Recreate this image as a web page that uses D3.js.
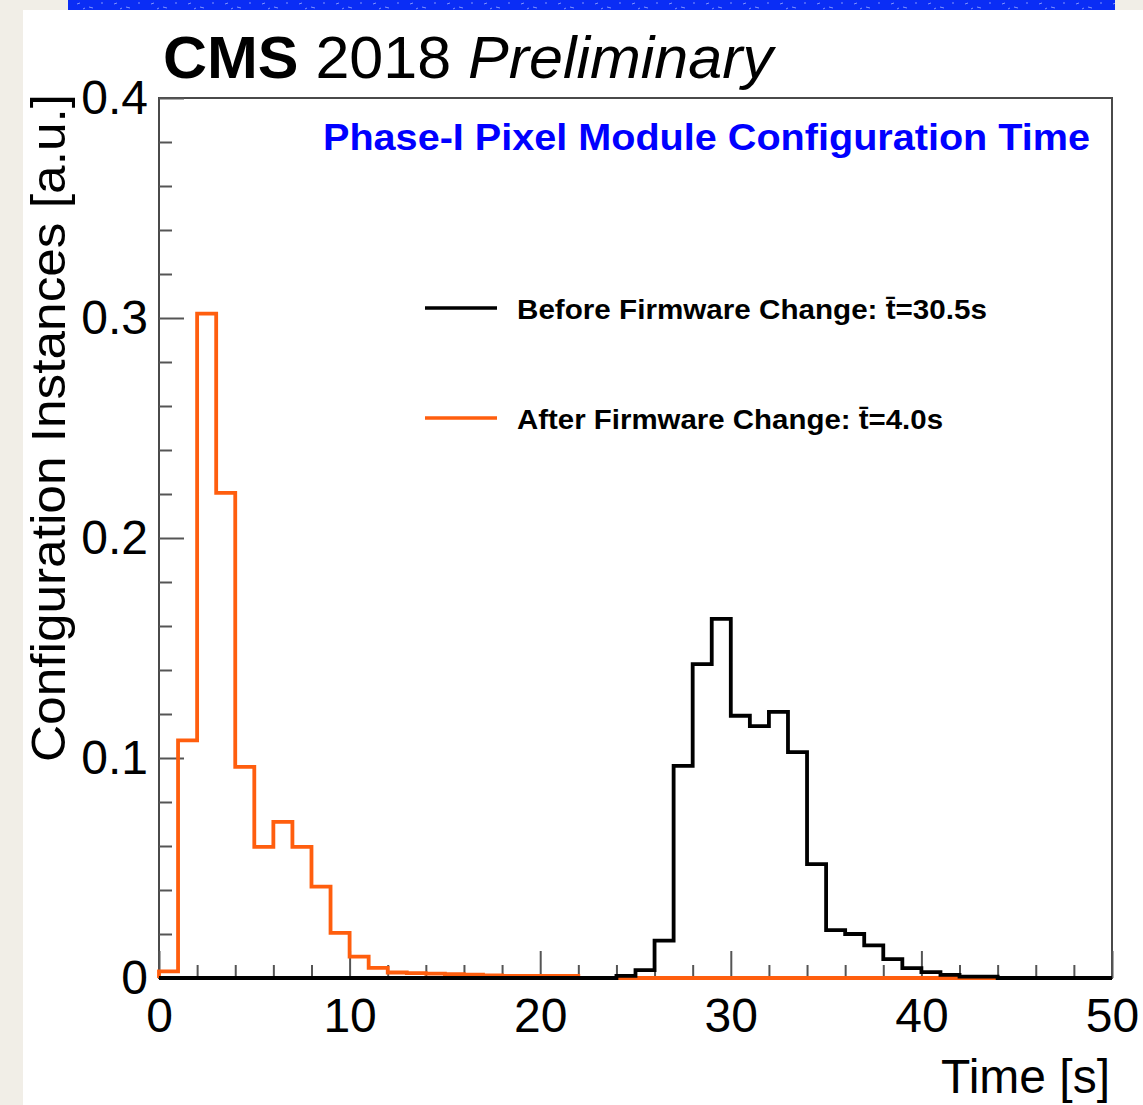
<!DOCTYPE html>
<html>
<head>
<meta charset="utf-8">
<script src="https://cdn.jsdelivr.net/npm/d3@7"></script>
<style>
  body { margin: 0; background: #f1eee7; }
  svg { display: block; }
  text { font-family: "Liberation Sans", Arial, Helvetica, sans-serif; }
</style>
</head>
<body>
<svg id="chart" width="1143" height="1105"></svg>
<script>
// histogram contents, one value per 1 s bin starting at t = 0
const binWidth = 1;
const beforeValues = [
  0, 0, 0, 0, 0, 0, 0, 0, 0, 0,
  0, 0, 0, 0, 0, 0, 0, 0, 0, 0,
  0, 0, 0, 0, 0.001, 0.0036, 0.017, 0.0964, 0.1427, 0.1632,
  0.1192, 0.1145, 0.121, 0.1027, 0.0518, 0.0218, 0.020, 0.0148, 0.0086, 0.0045,
  0.0027, 0.0014, 0.0006, 0.0006, 0, 0, 0, 0, 0, 0
];
const afterValues = [
  0.003, 0.108, 0.302, 0.2205, 0.096, 0.0596, 0.071, 0.0596, 0.0415, 0.0205,
  0.0097, 0.0046, 0.0025, 0.0022, 0.002, 0.0018, 0.0015, 0.0012, 0.001, 0.001,
  0.001, 0.001, 0, 0, 0, 0, 0, 0, 0, 0,
  0, 0, 0, 0, 0, 0, 0, 0, 0, 0,
  0, 0, 0, 0
];
const xMajorTicks = [0, 10, 20, 30, 40, 50];
const yMajorTicks = [0, 0.1, 0.2, 0.3, 0.4];
const legendLabels = ["Before Firmware Change: t\u0304=30.5s", "After Firmware Change: t\u0304=4.0s"];
const seriesColors = ["#000000", "#ff5e0e"];

const svg = d3.select("#chart");

// page background: white sheet, blue scribble strip at top
const defs = svg.append("defs");
const pat = defs.append("pattern")
  .attr("id", "scribble")
  .attr("patternUnits", "userSpaceOnUse")
  .attr("width", 37).attr("height", 10);
pat.append("rect").attr("width", 37).attr("height", 10).attr("fill", "#0a2df5");
pat.append("path")
  .attr("d", "M3,4 l3,-1 M15,7 l4,1 M27,3 l2,0 M9,9 l2,-1")
  .attr("stroke", "#9fb0ff").attr("stroke-width", 0.8);

svg.append("rect").attr("x", 68).attr("y", 0).attr("width", 1047).attr("height", 10)
  .attr("fill", "url(#scribble)");
svg.append("rect").attr("x", 23).attr("y", 10).attr("width", 1120).attr("height", 1095)
  .attr("fill", "#ffffff");

const margin = {left: 159, right: 1112, top: 98, bottom: 978};

const x = d3.scaleLinear().domain([0, 50]).range([margin.left, margin.right]);
const y = d3.scaleLinear().domain([0, 0.4]).range([margin.bottom, margin.top]);

// frame
svg.append("rect")
  .attr("x", margin.left).attr("y", margin.top)
  .attr("width", margin.right - margin.left).attr("height", margin.bottom - margin.top)
  .attr("fill", "none").attr("stroke", "#4a4a4a").attr("stroke-width", 2);

// minor ticks
const xMinor = d3.range(0, 50.001, 2).filter(d => d % 10 !== 0);
const yMinor = d3.range(0, 0.4001, 0.02).filter(d => Math.abs(d * 10 - Math.round(d * 10)) > 1e-6);

svg.append("g")
  .attr("transform", `translate(0,${margin.bottom})`)
  .call(d3.axisBottom(x).tickValues(xMinor).tickSize(-13).tickFormat(""))
  .call(g => g.select(".domain").remove());
svg.append("g")
  .attr("transform", `translate(${margin.left},0)`)
  .call(d3.axisLeft(y).tickValues(yMinor).tickSize(-13).tickFormat(""))
  .call(g => g.select(".domain").remove());

// major ticks with labels
svg.append("g")
  .attr("transform", `translate(0,${margin.bottom})`)
  .call(d3.axisBottom(x).tickValues(xMajorTicks).tickSize(-27).tickPadding(20).tickFormat(d3.format("d")))
  .call(g => g.select(".domain").remove());
svg.append("g")
  .attr("transform", `translate(${margin.left},0)`)
  .call(d3.axisLeft(y).tickValues(yMajorTicks).tickSize(-25).tickPadding(11)
    .tickFormat(d => d === 0 ? "0" : d.toFixed(1)))
  .call(g => g.select(".domain").remove());

svg.selectAll(".tick line").attr("stroke", "#555").attr("stroke-width", 2);
svg.selectAll(".tick text")
  .attr("fill", "#000")
  .style("font-family", '"Liberation Sans", Arial, Helvetica, sans-serif')
  .style("font-size", "48px");

// histograms as step outlines
function stepPoints(values) {
  const pts = [[0, 0]];
  values.forEach((v, i) => pts.push([i * binWidth, v]));
  const n = values.length;
  pts.push([n * binWidth, values[n - 1]]);
  pts.push([n * binWidth, 0]);
  return pts;
}
const line = d3.line()
  .x(d => x(d[0]))
  .y(d => y(d[1]))
  .curve(d3.curveStepAfter);

[afterValues, beforeValues].forEach((vals, k) => {
  svg.append("path")
    .datum(stepPoints(vals))
    .attr("d", line)
    .attr("fill", "none")
    .attr("stroke", k === 0 ? seriesColors[1] : seriesColors[0])
    .attr("stroke-width", 3.8)
    .attr("stroke-linejoin", "miter");
});

// legend
legendLabels.forEach((lab, i) => {
  const ly = 308 + i * 110;
  svg.append("line")
    .attr("x1", 425).attr("x2", 497).attr("y1", ly).attr("y2", ly)
    .attr("stroke", seriesColors[i]).attr("stroke-width", 3.5);
  svg.append("text")
    .attr("x", 517).attr("y", ly + 11)
    .attr("font-size", 28).attr("font-weight", "bold")
    .attr("textLength", i === 0 ? 470 : 426)
    .attr("lengthAdjust", "spacingAndGlyphs")
    .text(lab);
});

// blue caption
svg.append("text")
  .attr("x", 1090).attr("y", 150)
  .attr("text-anchor", "end")
  .attr("font-size", 37).attr("font-weight", "bold")
  .attr("fill", "#0000ff")
  .attr("textLength", 767).attr("lengthAdjust", "spacingAndGlyphs")
  .text("Phase-I Pixel Module Configuration Time");

// CMS title
const title = svg.append("text").attr("x", 163).attr("y", 78).attr("font-size", 60)
  .attr("textLength", 610).attr("lengthAdjust", "spacingAndGlyphs");
title.append("tspan").attr("font-weight", "bold").text("CMS");
title.append("tspan").text(" 2018 ");
title.append("tspan").attr("font-style", "italic").text("Preliminary");

// axis titles
svg.append("text")
  .attr("x", 1110).attr("y", 1093)
  .attr("text-anchor", "end")
  .attr("font-size", 48)
  .text("Time [s]");

svg.append("text")
  .attr("transform", "translate(65,94) rotate(-90)")
  .attr("text-anchor", "end")
  .attr("font-size", 48)
  .attr("textLength", 668).attr("lengthAdjust", "spacingAndGlyphs")
  .text("Configuration Instances [a.u.]");
</script>
</body>
</html>
